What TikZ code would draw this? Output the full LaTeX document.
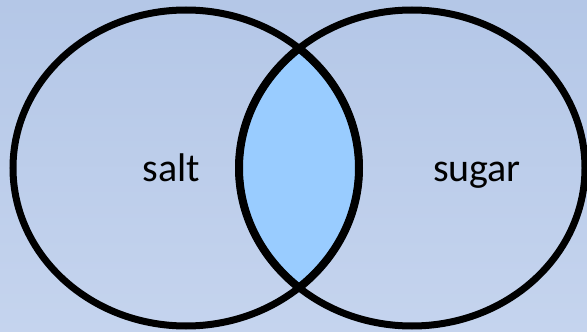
\documentclass[tikz,border=0pt]{standalone}
\usepackage{fontspec}
\setmainfont{Carlito}
\definecolor{bgtop}{RGB}{180,199,231}
\definecolor{bgbot}{RGB}{197,212,238}
\definecolor{lensfill}{RGB}{153,204,255}
\tikzset{ring/.style={draw=black,line width=7pt},
  lensline/.style={draw=black,line width=8pt},
  label/.style={font=\fontsize{40}{46}\selectfont,text=black,inner sep=0pt}}
\begin{document}
\begin{tikzpicture}[x=1pt,y=-1pt]
\useasboundingbox (0,0) rectangle (587,332);
\shade[top color=bgtop,bottom color=bgbot] (0,0) rectangle (587,332);
\begin{scope}
  \clip (186,168) ellipse [x radius=173, y radius=158];
  \fill[lensfill] (412,168) ellipse [x radius=173, y radius=158];
  \draw[lensline] (412,168) ellipse [x radius=173, y radius=158];
\end{scope}
\begin{scope}
  \clip (412,168) ellipse [x radius=173, y radius=158];
  \draw[lensline] (186,168) ellipse [x radius=173, y radius=158];
\end{scope}
\draw[ring] (186,168) ellipse [x radius=173, y radius=158];
\draw[ring] (412,168) ellipse [x radius=173, y radius=158];
\node[label,anchor=base] (salt) at (171.5,181) {salt};
\node[label,anchor=base] (sugar) at (477,181) {sugar};
\end{tikzpicture}
\end{document}
